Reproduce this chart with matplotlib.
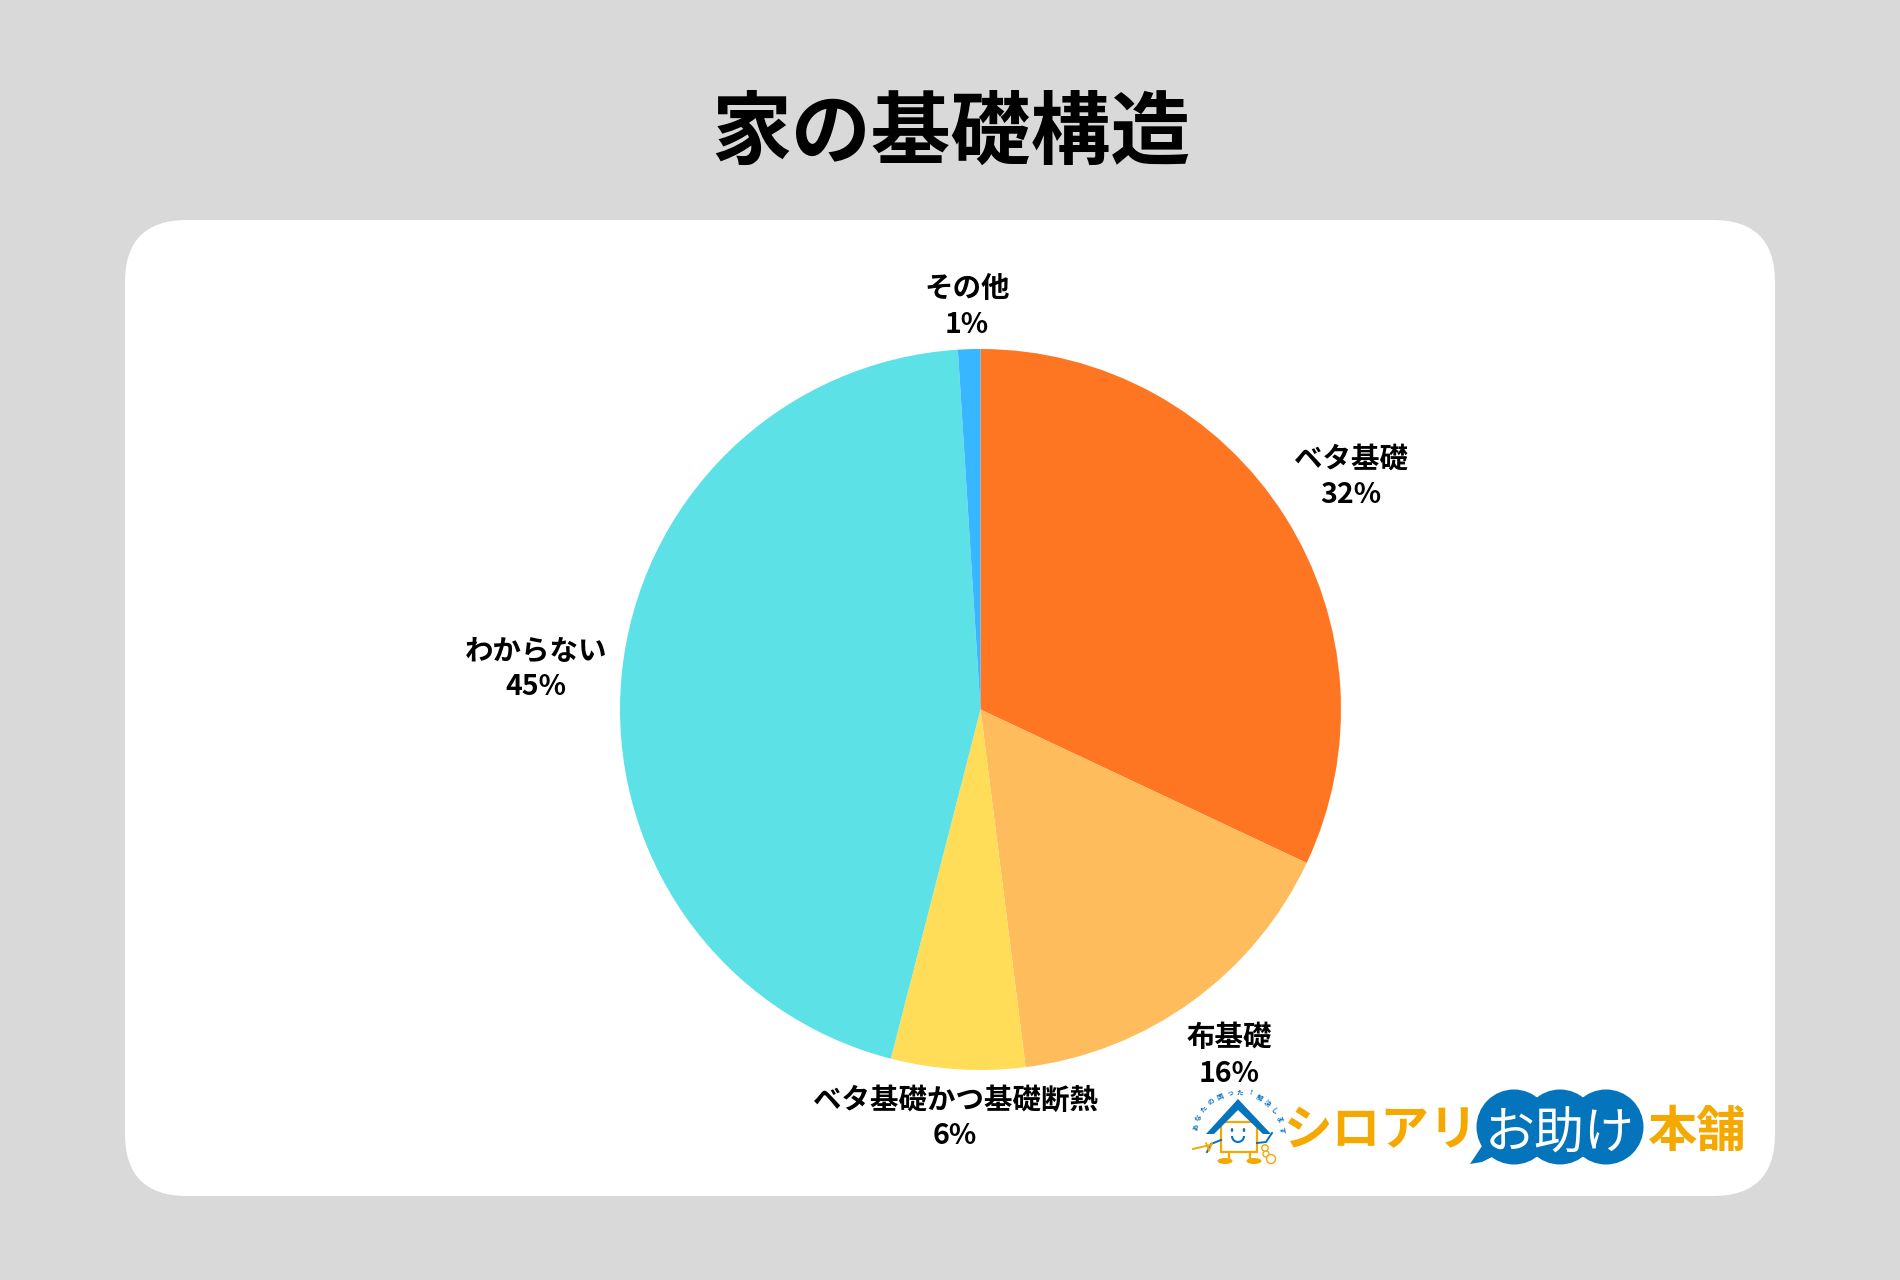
import numpy as np
import matplotlib
matplotlib.use("Agg")
import matplotlib.pyplot as plt
from matplotlib.patches import FancyBboxPatch, Circle, Ellipse, Arc, Polygon, Rectangle

plt.rcParams["font.family"] = ["Noto Sans CJK JP", "DejaVu Sans"]

# Data
TITLE = "家の基礎構造"
LABELS = ["ベタ基礎", "布基礎", "ベタ基礎かつ基礎断熱", "わからない", "その他"]
VALUES = [32, 16, 6, 45, 1]
COLOURS = ["#FF7622", "#FFBC5C", "#FFDD59", "#5CE1E6", "#38B6FF"]
SLOGAN = "あなたの困った！解決します"

W, H = 1900, 1280
BLUE = "#0474BC"
GOLD = "#F5A800"

fig = plt.figure(figsize=(W / 100, H / 100), dpi=100, facecolor="#D9D9D9")

# full-figure axes in pixels, y pointing down
bg = fig.add_axes([0, 0, 1, 1])
bg.set_xlim(0, W)
bg.set_ylim(H, 0)
bg.axis("off")

bg.add_patch(FancyBboxPatch((125 + 62, 220 + 62), 1650 - 124, 976 - 124,
                            boxstyle="round,pad=62,rounding_size=62",
                            fc="white", ec="none"))
bg.text(951, 134, TITLE, ha="center", va="center", fontsize=57.5,
        fontweight="bold", color="black")

# Pie
cx, cy, r = 980.5, 709.5, 360.5
pie_ax = fig.add_axes([(cx - r) / W, 1 - (cy + r) / H, 2 * r / W, 2 * r / H])
pie_ax.pie(VALUES, colors=COLOURS, startangle=90, counterclock=False, radius=1,
           wedgeprops={"linewidth": 0})
pie_ax.set_xlim(-1, 1)
pie_ax.set_ylim(-1, 1)

# Slice labels
label_pos = [(1351, 477), (1229, 1056), (955, 1118), (536, 669), (967, 307)]
for name, val, (x, y) in zip(LABELS, VALUES, label_pos):
    bg.text(x, y, f"{name}\n{val}%", ha="center", va="center", fontsize=20.5,
            fontweight="bold", color="black", linespacing=1.32)

# Logo, drawn over everything else
logo = fig.add_axes([0, 0, 1, 1], zorder=5)
logo.set_xlim(0, W)
logo.set_ylim(H, 0)
logo.axis("off")

# mascot: house with face, arms, feet
logo.add_patch(Rectangle((1221, 1122), 36, 30, fc="white", ec=GOLD, lw=1.6))
logo.add_patch(Polygon([(1206, 1134), (1238, 1099), (1271, 1134), (1263, 1134),
                        (1238, 1110), (1214, 1134)], closed=True, fc=BLUE, ec="none"))
logo.add_patch(Ellipse((1232, 1130), 2.5, 4, fc=BLUE, ec="none"))
logo.add_patch(Ellipse((1244, 1130), 2.5, 4, fc=BLUE, ec="none"))
logo.add_patch(Arc((1238, 1136), 12, 12, theta1=0, theta2=180, color=BLUE, lw=1.5))
logo.plot([1229, 1229], [1152, 1160], color=GOLD, lw=1.6)
logo.plot([1250, 1250], [1152, 1160], color=GOLD, lw=1.6)
logo.add_patch(Ellipse((1225, 1161), 15, 6, fc=GOLD, ec="none"))
logo.add_patch(Ellipse((1254, 1161), 15, 6, fc=GOLD, ec="none"))
logo.plot([1221, 1211, 1207], [1140, 1144, 1152], color=BLUE, lw=1.4)
logo.plot([1257, 1266, 1272], [1143, 1142, 1133], color=BLUE, lw=1.4)
logo.plot([1193, 1210], [1149, 1145], color=GOLD, lw=1.4)
logo.plot([1206, 1209, 1212], [1143, 1151, 1143], color=GOLD, lw=1.2)
# ant
logo.add_patch(Circle((1265, 1148), 3.2, fc="white", ec=GOLD, lw=1))
logo.add_patch(Circle((1266, 1154), 3, fc="white", ec=GOLD, lw=1))
logo.add_patch(Circle((1271, 1159), 4.5, fc="white", ec=GOLD, lw=1))

# slogan running round the roof
for ch, ang in zip(SLOGAN, np.linspace(168, 8, len(SLOGAN))):
    t = np.deg2rad(ang)
    logo.text(1238 + 44 * np.cos(t), 1136 - 44 * np.sin(t), ch, ha="center",
              va="center", fontsize=4.8, fontweight="bold", color=BLUE,
              rotation=ang - 90)

logo.text(1380, 1131, "シロアリ", ha="center", va="center", fontsize=35,
          fontweight="bold", color=GOLD)
for x in (1514, 1560, 1606):
    logo.add_patch(Circle((x, 1127), 37.5, fc=BLUE, ec="none"))
logo.add_patch(Polygon([(1470, 1164), (1482, 1162), (1496, 1155), (1486, 1140)],
                       closed=True, fc=BLUE, ec="none"))
logo.text(1560, 1135, "お助け", ha="center", va="center", fontsize=36,
          color="white")
logo.text(1696, 1132, "本舗", ha="center", va="center", fontsize=35.5,
          fontweight="bold", color=GOLD)

fig.savefig("out.png", dpi=100, facecolor=fig.get_facecolor())
